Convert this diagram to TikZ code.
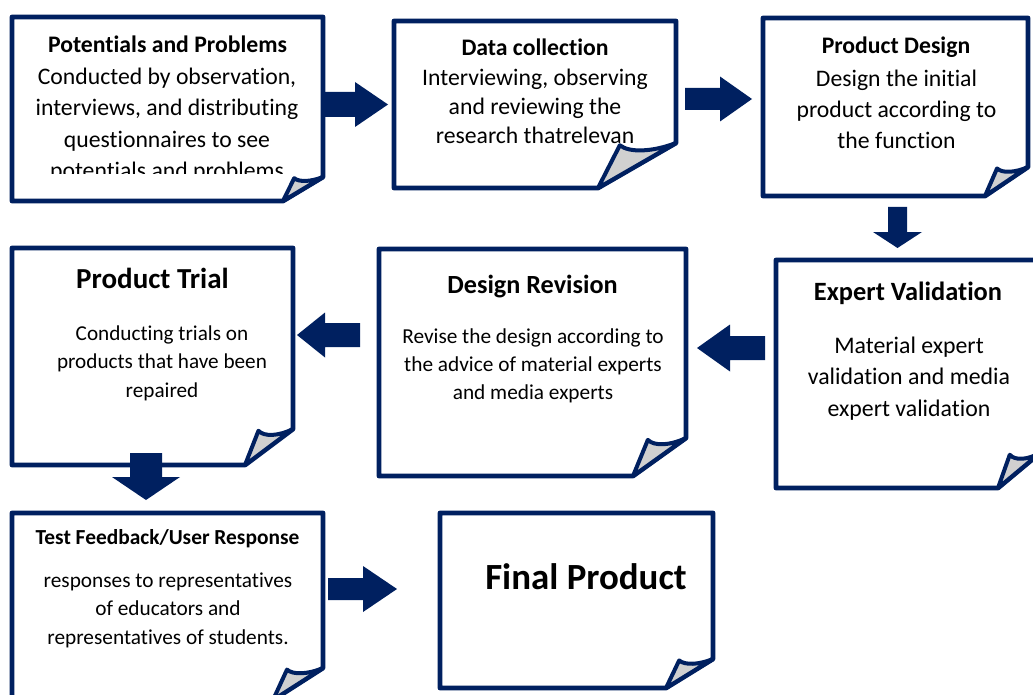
\documentclass[tikz,border=0pt]{standalone}
\usepackage{fontspec}
\setmainfont{Carlito}[RawFeature={-liga;-dlig;-clig;-calt}]
\usetikzlibrary{calc}

% keep "t" and "i" as separate glyphs
\newXeTeXintercharclass\tletter
\newXeTeXintercharclass\iletter
\XeTeXcharclass`t=\tletter
\XeTeXcharclass`i=\iletter
\XeTeXinterchartoks\tletter\iletter={\kern0pt }
\XeTeXinterchartokenstate=1

\definecolor{navy}{RGB}{0,32,96}
\definecolor{foldgray}{RGB}{208,208,208}

\tikzset{
  card/.style={draw=none, inner sep=0pt, outer sep=0pt},
  cardline/.style={draw=navy, line width=4.8pt, line join=round, fill=white},
  foldline/.style={draw=navy, line width=4pt, line join=round, fill=foldgray},
  arrowfill/.style={fill=navy},
  title/.style={anchor=base, inner sep=0pt, font=\bfseries\fontsize{#1}{#1}\selectfont},
  body/.style={anchor=base, inner sep=0pt},
}

% page with a curled lower right corner drawn around the card node #1
% #2 = width of the fold along the bottom, #3 = height of the fold along the right side
\newcommand\foldcard[3]{%
  \draw[cardline] (#1.north west) -- (#1.north east)
    -- ($(#1.south east)+(0pt,#3pt)$) -- ($(#1.south east)+(-#2pt,0pt)$)
    -- (#1.south west) -- cycle;
  \filldraw[foldline] ($(#1.south east)+(-#2pt,0pt)$)
    -- ($(#1.south east)+({-0.72*#2pt},{0.95*#3pt})$)
    .. controls ($(#1.south east)+({-0.6*#2pt},{0.78*#3pt})$)
           and ($(#1.south east)+({-0.3*#2pt},{0.8*#3pt})$)
    .. ($(#1.south east)+(0pt,#3pt)$) -- cycle;
}

% filled block arrow from #1 to #2; #3 shaft half width, #4 head half width, #5 head length
\newcommand\blockarrow[5]{%
  \fill[arrowfill] let \p1=(#1), \p2=(#2),
      \n1={atan2(\y2-\y1,\x2-\x1)}, \n2={veclen(\x2-\x1,\y2-\y1)} in
    [shift={(\p1)}, rotate=\n1]
    (0pt,#3pt) -- ({(\n2-#5)*1pt},#3pt) -- ({(\n2-#5)*1pt},#4pt)
    -- ({\n2*1pt},0pt) -- ({(\n2-#5)*1pt},-#4pt) -- ({(\n2-#5)*1pt},-#3pt)
    -- (0pt,-#3pt) -- cycle;
}

\begin{document}
\begin{tikzpicture}[x=1pt, y=-1pt]
\clip (0,0) rectangle (1033,695);
\fill[white] (0,0) rectangle (1033,695);

% card areas
\node[card, minimum width=311, minimum height=184] (pp) at (167.5,109) {};
\node[card, minimum width=282, minimum height=167] (dc) at (535,104.5) {};
\node[card, minimum width=265, minimum height=178] (pd) at (895.5,107) {};
\node[card, minimum width=281, minimum height=217] (pt) at (152.5,356.5) {};
\node[card, minimum width=307, minimum height=227] (dr) at (532.5,362.5) {};
\node[card, minimum width=264, minimum height=228] (ev) at (908,374) {};
\node[card, minimum width=311, minimum height=187] (tf) at (167.5,606.5) {};
\node[card, minimum width=273, minimum height=175] (fp) at (576.5,600.5) {};

\foldcard{pp}{40}{24}
\foldcard{dc}{78}{45}
\foldcard{pd}{43}{29}
\foldcard{pt}{48}{36}
\foldcard{dr}{53}{38}
\foldcard{ev}{42}{35}
\foldcard{tf}{50}{32}
\foldcard{fp}{47}{29}

% texts
\node[title=23.7] (pp-t) at (167.5,52.7) {Potentials and Problems};
\begin{scope}
  \clip (pp.north west) rectangle (323,174);
  \node[body, font=\fontsize{23.7}{31.4}\selectfont] (pp-b) at (167,84.3)
    {\begin{tabular}[t]{@{}c@{}}Conducted by observation,\\interviews, and distributing\\questionnaires to see\\potentials and problems\end{tabular}};
\end{scope}

\node[title=23.7] (dc-t) at (535,56) {Data collection};
\node[body, font=\fontsize{23.7}{28.7}\selectfont] (dc-b) at (535,86)
  {\begin{tabular}[t]{@{}c@{}}Interviewing, observing\\and reviewing the\\research thatrelevan\end{tabular}};

\node[title=23.7] (pd-t) at (896,54) {Product Design};
\node[body, font=\fontsize{23.7}{31}\selectfont] (pd-b) at (896.5,87)
  {\begin{tabular}[t]{@{}c@{}}Design the initial\\product according to\\the function\end{tabular}};

\node[title=29] (pt-t) at (152.5,288) {Product Trial};
\node[body, font=\fontsize{21.2}{28.5}\selectfont] (pt-b) at (162,340)
  {\begin{tabular}[t]{@{}c@{}}Conducting trials on\\products that have been\\repaired\end{tabular}};

\node[title=26.2] (dr-t) at (532.5,293) {Design Revision};
\node[body, font=\fontsize{21.3}{28}\selectfont] (dr-b) at (533,343)
  {\begin{tabular}[t]{@{}c@{}}Revise the design according to\\the advice of material experts\\and media experts\end{tabular}};

\node[title=26.4] (ev-t) at (908,300) {Expert Validation};
\node[body, font=\fontsize{23.8}{31.5}\selectfont] (ev-b) at (909,353)
  {\begin{tabular}[t]{@{}c@{}}Material expert\\validation and media\\expert validation\end{tabular}};

\node[title=21.4] (tf-t) at (167.5,544) {Test Feedback/User Response};
\node[body, font=\fontsize{21.3}{28.5}\selectfont] (tf-b) at (168,587)
  {\begin{tabular}[t]{@{}c@{}}responses to representatives\\of educators and\\representatives of students.\end{tabular}};

\node[title=36.9] (fp-t) at (586,589) {Final Product};

% flow arrows
\coordinate (a1s) at ($(pp.east)+(0,-4.5)$);
\coordinate (a1e) at ($(dc.west)+(-6,0)$);
\coordinate (a2s) at ($(dc.east)+(9,-5.5)$);
\coordinate (a2e) at ($(pd.west)+(-11,-8)$);
\coordinate (a3s) at ($(pd.south)+(2,11)$);
\coordinate (a3e) at ($(ev.north)+(-10.5,-12)$);
\coordinate (a4s) at ($(ev.west)+(-11,-26)$);
\coordinate (a4e) at ($(dr.east)+(11,-14.5)$);
\coordinate (a5s) at ($(dr.west)+(-19,-27.5)$);
\coordinate (a5e) at ($(pt.east)+(4,-21.5)$);
\coordinate (a6s) at ($(pt.south)+(-6.5,-12)$);
\coordinate (a6e) at ($(tf.north)+(-21.5,-13)$);
\coordinate (a7s) at ($(tf.east)+(5,-17.5)$);
\coordinate (a7e) at ($(fp.west)+(-43,-11.5)$);

\blockarrow{a1s}{a1e}{12.5}{22.5}{33}
\blockarrow{a2s}{a2e}{11}{22.5}{32}
\blockarrow{a3s}{a3e}{9.5}{24.5}{16}
\blockarrow{a4s}{a4e}{12}{23.5}{33}
\blockarrow{a5s}{a5e}{12}{22.5}{28}
\blockarrow{a6s}{a6e}{16}{34}{23}
\blockarrow{a7s}{a7e}{11}{23}{34}
\end{tikzpicture}
\end{document}
